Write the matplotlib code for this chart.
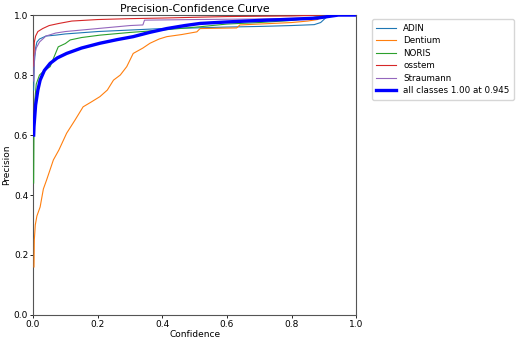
import matplotlib
matplotlib.use("Agg")
import matplotlib.pyplot as plt

# confidence / precision pairs
adin_c = [0.002, 0.004, 0.008, 0.012, 0.02, 0.04, 0.07, 0.1, 0.2, 0.3, 0.4, 0.5, 0.6, 0.7, 0.8, 0.87, 0.89, 0.905, 0.92, 1.0]
adin_p = [0.75, 0.84, 0.89, 0.91, 0.92, 0.93, 0.933, 0.937, 0.945, 0.95, 0.955, 0.957, 0.96, 0.962, 0.965, 0.968, 0.975, 0.99, 1.0, 1.0]

dent_c = [0.003, 0.004, 0.007, 0.012, 0.022, 0.032, 0.042, 0.063, 0.08, 0.104, 0.13, 0.155, 0.18, 0.207, 0.23, 0.249, 0.27, 0.29, 0.31, 0.34, 0.362, 0.39, 0.414, 0.46, 0.507, 0.517, 0.63, 0.64, 0.70, 0.8, 0.85, 0.88, 0.9, 1.0]
dent_p = [0.16, 0.25, 0.30, 0.33, 0.36, 0.42, 0.45, 0.517, 0.55, 0.606, 0.65, 0.694, 0.71, 0.728, 0.75, 0.783, 0.80, 0.828, 0.872, 0.89, 0.906, 0.92, 0.928, 0.935, 0.944, 0.955, 0.957, 0.967, 0.97, 0.975, 0.98, 0.985, 1.0, 1.0]

noris_c = [0.002, 0.003, 0.006, 0.01, 0.02, 0.035, 0.053, 0.065, 0.078, 0.1, 0.115, 0.15, 0.207, 0.3, 0.4, 0.517, 0.6, 0.7, 0.8, 0.86, 0.9, 1.0]
noris_p = [0.44, 0.62, 0.72, 0.77, 0.80, 0.815, 0.828, 0.86, 0.894, 0.905, 0.917, 0.925, 0.933, 0.942, 0.95, 0.961, 0.97, 0.975, 0.982, 0.99, 1.0, 1.0]

oss_c = [0.002, 0.004, 0.008, 0.015, 0.03, 0.05, 0.08, 0.12, 0.2, 0.3, 0.4, 0.6, 0.8, 0.9, 1.0]
oss_p = [0.83, 0.91, 0.93, 0.945, 0.955, 0.965, 0.972, 0.98, 0.985, 0.988, 0.99, 0.995, 0.997, 1.0, 1.0]

str_c = [0.002, 0.004, 0.01, 0.02, 0.04, 0.07, 0.1, 0.2, 0.3, 0.34, 0.345, 0.5, 0.7, 0.85, 0.9, 0.92, 1.0]
str_p = [0.78, 0.86, 0.89, 0.91, 0.93, 0.94, 0.945, 0.955, 0.965, 0.967, 0.983, 0.985, 0.987, 0.99, 0.995, 1.0, 1.0]

all_c = [0.002, 0.003, 0.008, 0.015, 0.022, 0.035, 0.053, 0.075, 0.104, 0.15, 0.207, 0.26, 0.31, 0.36, 0.414, 0.47, 0.517, 0.6, 0.7, 0.8, 0.88, 0.945, 1.0]
all_p = [0.60, 0.628, 0.70, 0.75, 0.783, 0.815, 0.839, 0.857, 0.872, 0.89, 0.906, 0.918, 0.928, 0.942, 0.955, 0.965, 0.972, 0.977, 0.982, 0.986, 0.99, 1.0, 1.0]

names = ["ADIN", "Dentium", "NORIS", "osstem", "Straumann"]
curves = [(adin_c, adin_p), (dent_c, dent_p), (noris_c, noris_p), (oss_c, oss_p), (str_c, str_p)]

fig, ax = plt.subplots(figsize=(5.2, 3.42), dpi=100)
fig.subplots_adjust(left=0.0635, right=0.685, top=0.956, bottom=0.079)

for name, (c, p) in zip(names, curves):
    ax.plot(c, p, linewidth=0.8, label=name, zorder=3)
ax.plot(all_c, all_p, linewidth=2.4, color="blue", label="all classes 1.00 at 0.945", zorder=3)

ax.set_xlim(0, 1)
ax.set_ylim(0, 1)
ax.set_xlabel("Confidence", fontsize=6.5, labelpad=1)
ax.set_ylabel("Precision", fontsize=6.5, labelpad=2)
ax.set_title("Precision-Confidence Curve", fontsize=7.8, pad=2)
ax.tick_params(labelsize=6.5, length=2.5, width=0.6, pad=1)
for s in ax.spines.values():
    s.set_linewidth(0.8)
    s.set_color("#555555")
ax.legend(bbox_to_anchor=(1.035, 1.0), loc="upper left", fontsize=6.3, handlelength=2.3,
          handletextpad=0.8, borderpad=0.5, labelspacing=0.4, framealpha=0.8, edgecolor="#cccccc")

fig.savefig("out.png", dpi=100)
